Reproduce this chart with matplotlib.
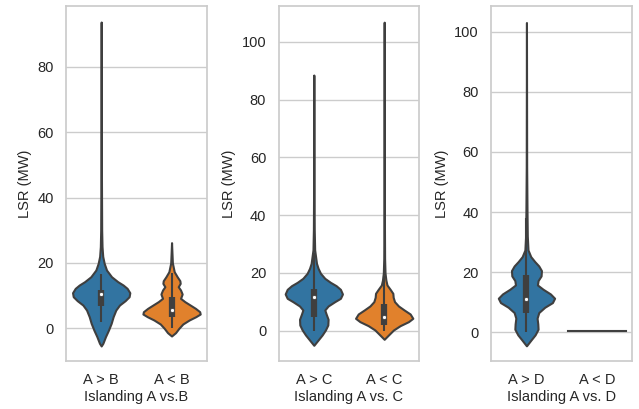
import matplotlib
matplotlib.use('Agg')
import matplotlib.pyplot as plt

plt.rcParams['font.family'] = ['Liberation Sans', 'DejaVu Sans']

# Perfiles de los violines: nivel (MW) y semiancho (unidades de categoría)
ab_gt_y = [-5.4, -4.59, -2.55, -0.52, 1.52, 3.56, 5.59, 7.12, 8.45, 9.67, 10.89, 12.22, 13.24,
           14.26, 15.78, 17.82, 19.86, 22, 25, 30, 45, 70, 93.7]
ab_gt_w = [0, 0.024, 0.061, 0.104, 0.142, 0.17, 0.208, 0.26, 0.34, 0.397, 0.407, 0.369, 0.312,
           0.236, 0.147, 0.076, 0.043, 0.022, 0.012, 0.007, 0.004, 0.002, 0]

ab_lt_y = [-2.35, -1.33, 0.0, 1.32, 2.54, 3.56, 4.37, 5.08, 6.10, 7.12, 8.15, 9.17, 10.49, 11.71,
           12.73, 13.75, 14.56, 15.78, 17.32, 20, 23, 26.2]
ab_lt_w = [0, 0.057, 0.104, 0.16, 0.25, 0.345, 0.407, 0.40, 0.34, 0.265, 0.189, 0.128, 0.151, 0.128,
           0.095, 0.123, 0.118, 0.08, 0.038, 0.012, 0.006, 0]

ac_gt_y = [-5.07, -3.22, -1.49, 0.24, 1.97, 3.93, 5.78, 7.16, 8.55, 10.05, 11.20, 12.70, 14.31,
           15.58, 16.73, 18.12, 19.85, 21.58, 23.31, 28, 35, 50, 88.5]
ac_gt_w = [0, 0.061, 0.118, 0.165, 0.199, 0.203, 0.175, 0.156, 0.203, 0.298, 0.378, 0.407, 0.378,
           0.317, 0.236, 0.156, 0.095, 0.061, 0.038, 0.012, 0.006, 0.003, 0]

ac_lt_y = [-2.99, -1.49, 0.24, 1.74, 3.12, 4.28, 5.78, 7.16, 8.55, 10.05, 11.55, 12.93, 14.31,
           15.81, 17.54, 20, 25, 40, 106.8]
ac_lt_w = [0, 0.061, 0.132, 0.227, 0.345, 0.407, 0.369, 0.284, 0.203, 0.147, 0.128, 0.123, 0.085,
           0.04, 0.024, 0.012, 0.006, 0.003, 0]

ad_gt_y = [-4.55, -2.56, -0.89, 0.99, 2.76, 4.65, 6.53, 8.30, 9.85, 11.30, 12.74, 14.29, 15.73,
           17.17, 18.73, 20.50, 22.05, 23.50, 25.16, 27.38, 32, 40, 55, 103.1]
ad_gt_w = [0, 0.066, 0.123, 0.165, 0.161, 0.151, 0.175, 0.26, 0.369, 0.40, 0.34, 0.236, 0.156,
           0.165, 0.208, 0.213, 0.175, 0.118, 0.061, 0.022, 0.012, 0.008, 0.003, 0]

# A < D: todas las observaciones iguales (una sola línea)
ad_lt_value = 0.3
ad_lt_halfwidth = 0.41

# Estadísticos del boxplot interior: [bigote inf, Q1, mediana, Q3, bigote sup]
ab_gt_box = [2.0, 6.8, 10.4, 11.8, 16.6]
ab_lt_box = [0.0, 3.6, 5.6, 9.7, 17.0]
ac_gt_box = [0.0, 4.6, 11.5, 14.3, 27.0]
ac_lt_box = [0.0, 2.0, 4.6, 9.2, 19.0]
ad_gt_box = [0.0, 6.3, 11.1, 19.1, 38.0]

tick_labels = [['A > B', 'A < B'], ['A > C', 'A < C'], ['A > D', 'A < D']]
x_labels = ['Islanding A vs.B', 'Islanding A vs. C', 'Islanding A vs. D']
y_limits = [(-10.0, 98.6), (-10.5, 112.4), (-9.6, 108.6)]
y_ticks = [[0, 20, 40, 60, 80], [0, 20, 40, 60, 80, 100], [0, 20, 40, 60, 80, 100]]

blue = '#3274a1'
orange = '#e1812c'
gray = '#3f3f3f'
light = '#cccccc'


def draw_violin(ax, pos, y, w, box, color):
    left = [pos - v for v in w]
    right = [pos + v for v in w]
    ax.fill_betweenx(y, left, right, facecolor=color, edgecolor=gray, linewidth=1.5, zorder=2)
    ax.plot([pos, pos], [box[0], box[4]], color=gray, linewidth=1.5, zorder=3, solid_capstyle='butt')
    ax.plot([pos, pos], [box[1], box[3]], color=gray, linewidth=4.5, zorder=3, solid_capstyle='butt')
    ax.scatter([pos], [box[2]], s=9, color='white', edgecolor=gray, linewidth=0.6, zorder=4)


fig, axes = plt.subplots(1, 3, figsize=(6.39, 4.09), dpi=100)
fig.subplots_adjust(left=66 / 639, right=632 / 639, top=1 - 6 / 409, bottom=1 - 361 / 409, wspace=0.511)

draw_violin(axes[0], 0, ab_gt_y, ab_gt_w, ab_gt_box, blue)
draw_violin(axes[0], 1, ab_lt_y, ab_lt_w, ab_lt_box, orange)
draw_violin(axes[1], 0, ac_gt_y, ac_gt_w, ac_gt_box, blue)
draw_violin(axes[1], 1, ac_lt_y, ac_lt_w, ac_lt_box, orange)
draw_violin(axes[2], 0, ad_gt_y, ad_gt_w, ad_gt_box, blue)
axes[2].plot([1 - ad_lt_halfwidth, 1 + ad_lt_halfwidth], [ad_lt_value, ad_lt_value],
             color=gray, linewidth=1.5, zorder=3)

for i, ax in enumerate(axes):
    ax.set_xlim(-0.5, 1.5)
    ax.set_ylim(*y_limits[i])
    ax.set_xticks([0, 1])
    ax.set_xticklabels(tick_labels[i])
    ax.set_yticks(y_ticks[i])
    ax.set_axisbelow(True)
    ax.grid(True, axis='y', color=light, linewidth=1)
    for s in ax.spines.values():
        s.set_color(light)
        s.set_linewidth(1.25)
    ax.tick_params(length=0, pad=9, labelsize=10.5, colors='#262626')
    ax.set_xlabel(x_labels[i], fontsize=10.5, color='#262626', labelpad=2)
    ax.set_ylabel('LSR (MW)', fontsize=10.5, color='#262626', labelpad=4)

fig.savefig('out.png', dpi=100)
